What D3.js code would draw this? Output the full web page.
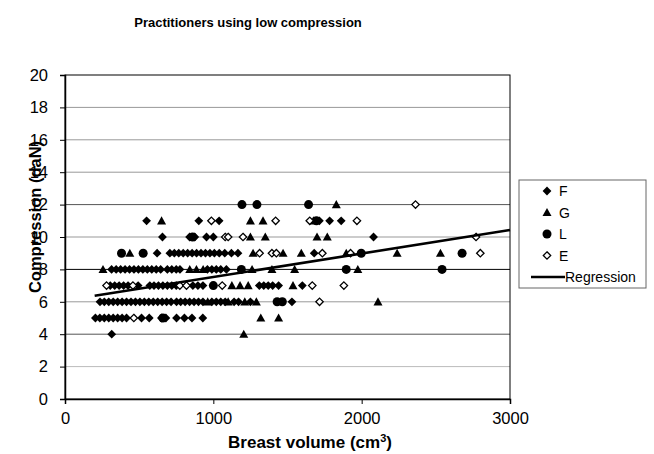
<!DOCTYPE html>
<html>
<head>
<meta charset="utf-8">
<script src="https://cdn.jsdelivr.net/npm/d3@7"></script>
<style>
  body { margin: 0; background: #fff; }
  text { font-family: Arial, "Liberation Sans", sans-serif; }
</style>
</head>
<body>
<div id="chart"></div>
<script>

// series values: [volume, compression]
var seriesF = [
  [315,4],
  [205,5],[235,5],[265,5],[295,5],[325,5],[355,5],[385,5],[415,5],[516,5],[568,5],[650,5],[680,5],[752,5],[805,5],[856,5],[929,5],
  [236,6],[265,6],[295,6],[325,6],[355,6],[385,6],[415,6],[445,6],[475,6],[505,6],[535,6],[565,6],[595,6],[625,6],[655,6],[685,6],[715,6],
  [752,6],[780,6],[810,6],[840,6],[870,6],[900,6],[930,6],[990,6],[1020,6],[1050,6],[1080,6],[1140,6],[1170,6],[1250,6],[1530,6],
  [305,7],[335,7],[365,7],[395,7],[425,7],[493,7],[572,7],[600,7],[630,7],[660,7],[690,7],[720,7],[750,7],[862,7],[896,7],[930,7],
  [1310,7],[1340,7],[1370,7],[1400,7],[1440,7],[1600,7],
  [314,8],[345,8],[375,8],[405,8],[435,8],[465,8],[495,8],[525,8],[555,8],[585,8],[615,8],[645,8],[690,8],[720,8],[750,8],[775,8],
  [960,8],[990,8],[1020,8],[1050,8],[1088,8],
  [621,9],[707,9],[737,9],[767,9],[797,9],[827,9],[857,9],[887,9],[917,9],[947,9],[977,9],[1007,9],[1040,9],[1077,9],[1122,9],[1166,9],[1680,9],
  [657,10],[840,10],[875,10],[954,10],[1000,10],[2080,10],
  [550,11],[902,11],[1039,11],[1715,11],[1784,11],[1862,11]
];

var seriesG = [
  [1205,4],
  [1320,5],[1440,5],
  [962,6],[1100,6],[1212,6],[1290,6],[2110,6],
  [1125,7],[1180,7],[1235,7],[1537,7],
  [256,8],[841,8],[886,8],[931,8],[1261,8],[1395,8],[1548,8],[1974,8],
  [437,9],[1268,9],[1470,9],[1593,9],[1896,9],[2239,9],[2531,9],
  [1250,10],[1350,10],[1699,10],[1768,10],
  [651,11],[1250,11],[1335,11],[1675,11],
  [1829,12]
];

var seriesL = [
  [660,5],
  [1430,6],[1465,6],
  [1000,7],
  [1189,8],[1896,8],[2542,8],
  [381,9],[527,9],[1997,9],[2677,9],
  [860,10],
  [1695,11],
  [1193,12],[1294,12],[1642,12]
];

var seriesE = [
  [464,5],
  [1716,6],
  [280,7],[458,7],[774,7],[819,7],[1060,7],[1667,7],[1880,7],
  [1312,9],[1395,9],[1425,9],[1735,9],[1925,9],[2800,9],
  [1080,10],[1100,10],[1200,10],[2771,10],
  [987,11],[1420,11],[1650,11],[1968,11],
  [2363,12]
];

// regression line end points
var regX = [200, 3000];
var regY = [6.37, 10.43];

var xTicks = [0, 1000, 2000, 3000];
var yTicks = [0, 2, 4, 6, 8, 10, 12, 14, 16, 18, 20];

var legendNames = ["F", "G", "L", "E", "Regression"];

var svgWidth = 654;
var svgHeight = 454;

var svg = d3.select("#chart")
  .append("svg")
  .attr("width", svgWidth)
  .attr("height", svgHeight);

var x = d3.scaleLinear().domain([0, 3000]).range([65, 510]);
var y = d3.scaleLinear().domain([0, 20]).range([399, 75]);

// gridlines (some come out darker in the source picture)
function gridColor(v) {
  if (v === 8) return "#000";
  if (v === 4 || v === 12) return "#555";
  if (v === 2) return "#bbb";
  return "#999";
}

svg.append("g")
  .selectAll("line")
  .data(yTicks.filter(d => d > 0 && d < 20))
  .enter()
  .append("line")
  .attr("x1", x(0))
  .attr("x2", x(3000))
  .attr("y1", d => y(d))
  .attr("y2", d => y(d))
  .attr("stroke", d => gridColor(d))
  .attr("stroke-width", 1);

// plot frame
svg.append("rect")
  .attr("x", x(0))
  .attr("y", y(20))
  .attr("width", x(3000) - x(0))
  .attr("height", y(0) - y(20))
  .attr("fill", "none")
  .attr("stroke", "#000")
  .attr("stroke-width", 1);

// axes
var yAxis = svg.append("g")
  .attr("transform", `translate(${x(0)},0)`)
  .call(d3.axisLeft(y).tickValues(yTicks).tickSize(5).tickPadding(12).tickFormat(d3.format("d")));

var xAxis = svg.append("g")
  .attr("transform", `translate(0,${y(0)})`)
  .call(d3.axisBottom(x).tickValues(xTicks).tickSize(5).tickPadding(8).tickFormat(d3.format("d")));

[yAxis, xAxis].forEach(function(ax) {
  ax.select(".domain").attr("stroke", "#000").attr("stroke-width", 1.5);
  ax.selectAll(".tick line").attr("stroke", "#000");
  ax.selectAll(".tick text")
    .attr("fill", "#000")
    .attr("font-size", "16.5px")
    .attr("font-family", "Arial, 'Liberation Sans', sans-serif");
});

// marker shapes
function diamondPath(r) {
  return `M0,${-r}L${r},0L0,${r}L${-r},0Z`;
}
function trianglePath(r) {
  return `M0,${-r}L${r},${r * 0.8}L${-r},${r * 0.8}Z`;
}

function drawMarker(g, kind) {
  if (kind === "F") {
    g.append("path").attr("d", diamondPath(4.4)).attr("fill", "#000");
  } else if (kind === "G") {
    g.append("path").attr("d", trianglePath(4.5)).attr("fill", "#000");
  } else if (kind === "L") {
    g.append("circle").attr("r", 4.5).attr("fill", "#000");
  } else if (kind === "E") {
    g.append("path").attr("d", diamondPath(3.7)).attr("fill", "#fff")
      .attr("stroke", "#000").attr("stroke-width", 1.3);
  }
}

var allSeries = [["F", seriesF], ["G", seriesG], ["L", seriesL], ["E", seriesE]];

allSeries.forEach(function(s) {
  svg.append("g")
    .selectAll("g")
    .data(s[1])
    .enter()
    .append("g")
    .attr("transform", d => `translate(${x(d[0])},${y(d[1])})`)
    .each(function() { drawMarker(d3.select(this), s[0]); });
});

// regression
svg.append("line")
  .attr("x1", x(regX[0]))
  .attr("y1", y(regY[0]))
  .attr("x2", x(regX[1]))
  .attr("y2", y(regY[1]))
  .attr("stroke", "#000")
  .attr("stroke-width", 2.6);

// titles
svg.append("text")
  .attr("x", 248)
  .attr("y", 27)
  .attr("text-anchor", "middle")
  .attr("font-size", "13px")
  .attr("font-weight", "bold")
  .text("Practitioners using low compression");

var xt = svg.append("text")
  .attr("x", 310)
  .attr("y", 448)
  .attr("text-anchor", "middle")
  .attr("font-size", "17px")
  .attr("font-weight", "bold")
  .text("Breast volume (cm");
xt.append("tspan").attr("font-size", "11px").attr("dy", "-6").text("3");
xt.append("tspan").attr("dy", "6").text(")");

svg.append("text")
  .attr("transform", "translate(41,217) rotate(-90)")
  .attr("text-anchor", "middle")
  .attr("font-size", "16.5px")
  .attr("font-weight", "bold")
  .text("Compression (daN)");

// legend
var legend = svg.append("g");
legend.append("rect")
  .attr("x", 519)
  .attr("y", 180)
  .attr("width", 127)
  .attr("height", 108)
  .attr("fill", "#fff")
  .attr("stroke", "#666")
  .attr("stroke-width", 1);

legendNames.forEach(function(name, i) {
  var ly = 191 + i * 21.5;
  if (name === "Regression") {
    legend.append("line")
      .attr("x1", 531).attr("x2", 565)
      .attr("y1", ly).attr("y2", ly)
      .attr("stroke", "#000").attr("stroke-width", 2.6);
    legend.append("text")
      .attr("x", 565).attr("y", ly + 5)
      .attr("font-size", "14px")
      .text(name);
  } else {
    var g = legend.append("g").attr("transform", `translate(547,${ly})`);
    drawMarker(g, name);
    legend.append("text")
      .attr("x", 559).attr("y", ly + 5)
      .attr("font-size", "14px")
      .text(name);
  }
});

</script>
</body>
</html>
